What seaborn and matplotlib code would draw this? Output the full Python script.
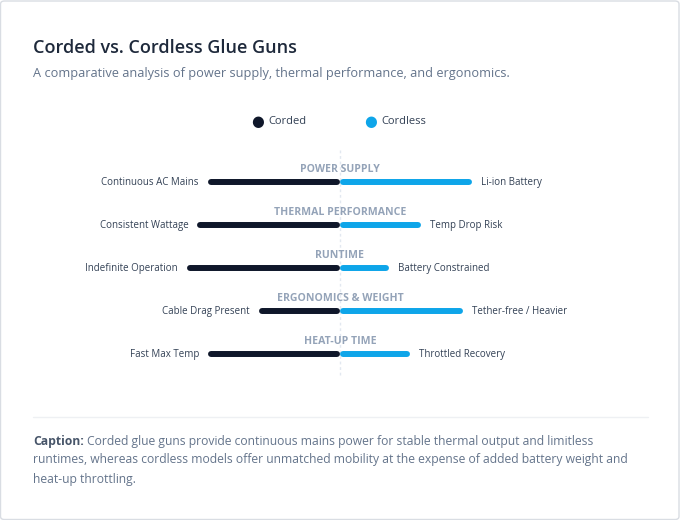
import matplotlib
matplotlib.use("Agg")
import matplotlib.pyplot as plt
import seaborn as sns
import pandas as pd
from matplotlib.patches import FancyBboxPatch

# data
categories = ["POWER SUPPLY", "THERMAL PERFORMANCE", "RUNTIME", "ERGONOMICS & WEIGHT", "HEAT-UP TIME"]
corded_labels = ["Continuous AC Mains", "Consistent Wattage", "Indefinite Operation", "Cable Drag Present", "Fast Max Temp"]
cordless_labels = ["Li-ion Battery", "Temp Drop Risk", "Battery Constrained", "Tether-free / Heavier", "Throttled Recovery"]
corded_scores = [86, 93, 100, 52, 86]
cordless_scores = [86, 52, 31, 80, 45]

DARK = "#0f172a"
BLUE = "#0ea5e9"
W, H = 680, 520
CAP = 2  # round cap half-width in data units, keeps both bars meeting at the centre


def fx(x):
    return x / W


def fy(y):
    return 1 - y / H


def main():
    sns.set_theme(style="white")
    plt.rcParams["font.family"] = ["Open Sans", "DejaVu Sans"]

    fig = plt.figure(figsize=(6.8, 5.2), dpi=100)
    fig.patch.set_facecolor("white")

    # card border
    fig.patches.append(FancyBboxPatch((0.5 / W, 0.5 / H), 1 - 1.5 / W, 1 - 1.5 / H,
                                      boxstyle="round,pad=0,rounding_size=0.006",
                                      transform=fig.transFigure, facecolor="none",
                                      edgecolor="#d9dde3", linewidth=1, zorder=-5))

    fig.text(fx(33), fy(48), "Corded vs. Cordless Glue Guns", fontsize=13, fontweight="semibold",
             color="#1e293b", va="center", ha="left")
    fig.text(fx(33), fy(74), "A comparative analysis of power supply, thermal performance, and ergonomics.",
             fontsize=9.2, color="#64748b", va="center", ha="left")

    # legend
    for cx, name, col in [(258, "Corded", DARK), (371, "Cordless", BLUE)]:
        fig.text(fx(cx), fy(121), "\u25CF", fontsize=10.5, color=col, va="center", ha="center",
                 family="DejaVu Sans")
        fig.text(fx(cx + 10), fy(121), name, fontsize=8, color="#334155", va="center", ha="left")

    # chart
    ax = fig.add_axes([0, 0, 1, 1])
    ax.patch.set_alpha(0)

    ax.plot([0, 0], [-0.74, 4.49], color="#e2e8f0", lw=1, ls=(0, (2, 2)), zorder=0)

    rows = []
    for i, cat in enumerate(categories):
        rows.append(dict(cat=cat, side="Corded", x=-CAP, row=i))
        rows.append(dict(cat=cat, side="Corded", x=-corded_scores[i], row=i))
        rows.append(dict(cat=cat, side="Cordless", x=CAP, row=i))
        rows.append(dict(cat=cat, side="Cordless", x=cordless_scores[i], row=i))
    df = pd.DataFrame(rows)

    sns.lineplot(data=df, x="x", y="row", hue="side", units="cat", estimator=None, sort=False,
                 hue_order=["Cordless", "Corded"], palette={"Corded": DARK, "Cordless": BLUE},
                 linewidth=4.3, solid_capstyle="round", legend=False, ax=ax)
    ax.set_xlim(-W / 2 / 1.5, W / 2 / 1.5)
    ax.set_ylim((H - 182) / 43, -182 / 43)
    ax.axis("off")

    for i, cat in enumerate(categories):
        ax.text(0, i - 0.28, cat, fontsize=7.6, fontweight="bold", color="#94a3b8",
                ha="center", va="center")
        ax.text(-corded_scores[i] - 8, i, corded_labels[i], fontsize=7.0, color="#334155",
                ha="right", va="center")
        ax.text(cordless_scores[i] + 8, i, cordless_labels[i], fontsize=7.0, color="#334155",
                ha="left", va="center")

    # separator
    fig.add_artist(plt.Line2D([fx(33), fx(648)], [fy(417), fy(417)], color="#eef0f3", lw=1))

    # caption
    cap_lines = ["Corded glue guns provide continuous mains power for stable thermal output and limitless",
                 "runtimes, whereas cordless models offer unmatched mobility at the expense of added battery weight and",
                 "heat-up throttling."]
    lead = fig.text(fx(33), fy(441), "Caption:", fontsize=8.7, fontweight="bold", color="#475569",
                    va="center", ha="left")
    fig.canvas.draw()
    bb = lead.get_window_extent()
    x_after = bb.x1 + 3
    fig.text(x_after / W, fy(441), cap_lines[0], fontsize=8.7, color="#64748b", va="center", ha="left")
    fig.text(fx(33), fy(460), cap_lines[1], fontsize=8.7, color="#64748b", va="center", ha="left")
    fig.text(fx(33), fy(479), cap_lines[2], fontsize=8.7, color="#64748b", va="center", ha="left")

    fig.savefig("out.png", dpi=100, facecolor="white")


if __name__ == "__main__":
    main()
